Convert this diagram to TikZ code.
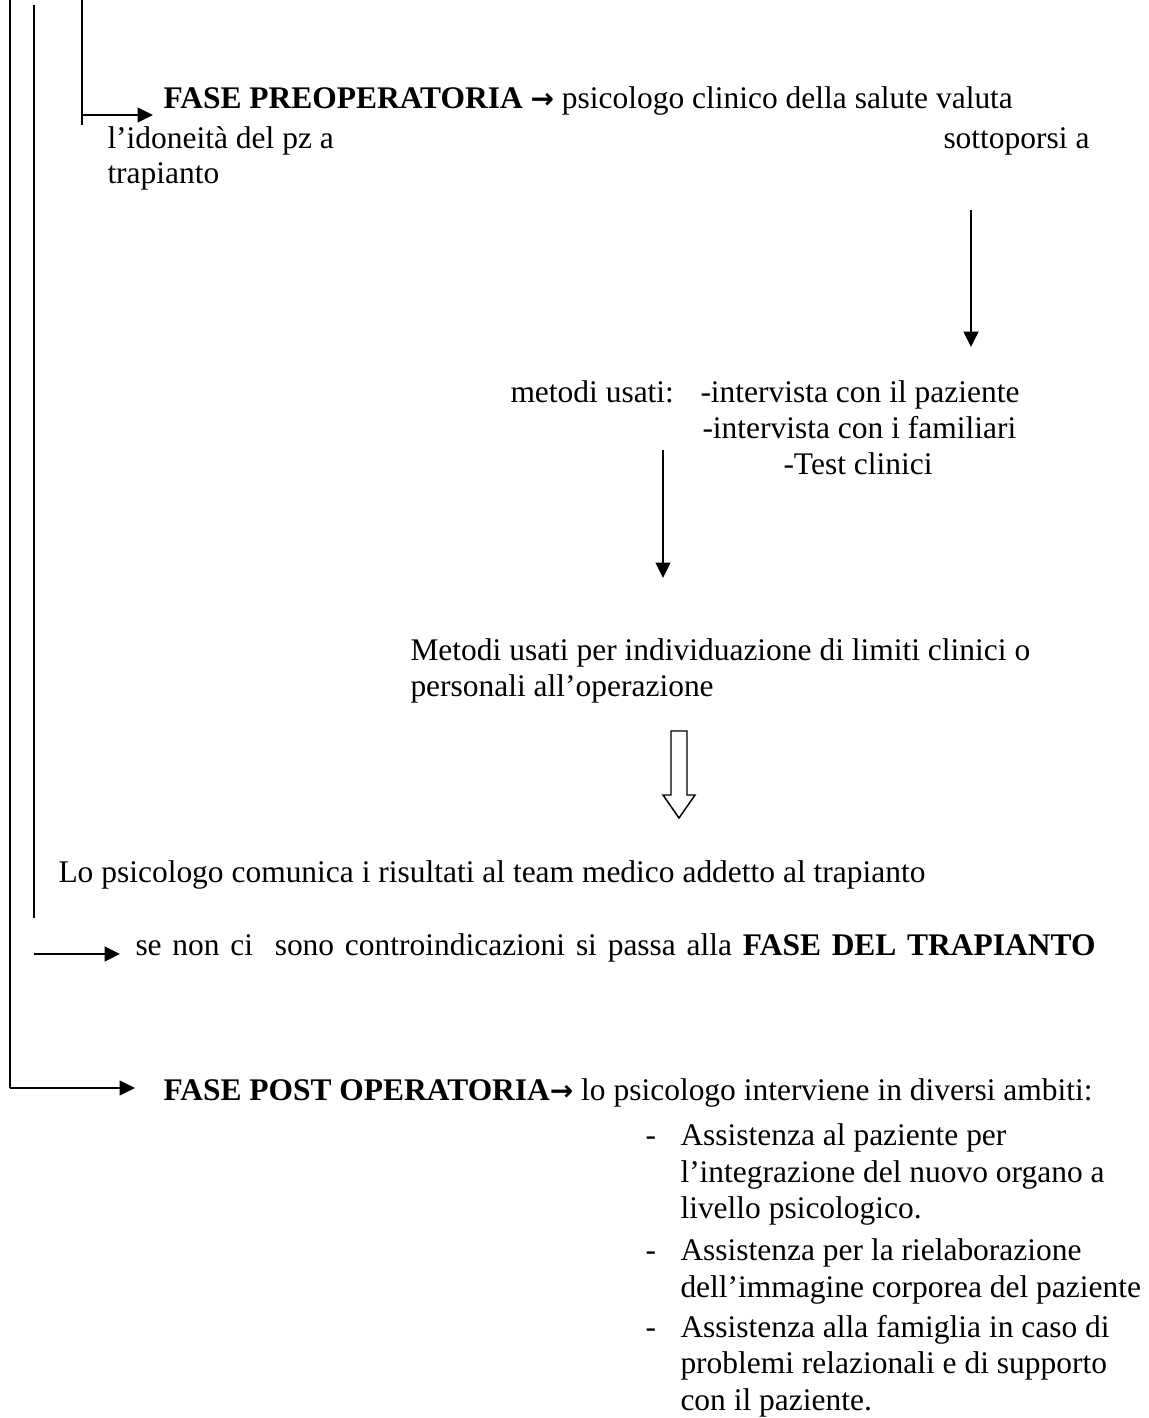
\documentclass[tikz,border=0pt]{standalone}
\usepackage{fontspec}
\setmainfont{Liberation Serif}
\newfontfamily\arrowfont{DejaVu Sans}
\usetikzlibrary{arrows.meta}

\newcommand{\thenarrow}{{\arrowfont\bfseries\fontsize{21}{27.5}\selectfont →}}

\tikzset{every picture/.style={line width=0.75pt}}
\tikzset{
  txt/.style={anchor=base west, inner sep=0pt, font=\fontsize{23.6}{27.5}\selectfont},
  rail/.style={line width=1.3pt},
  flow/.style={line width=1.3pt, -{Triangle[length=11.5pt,width=11pt]}},
  hollow/.style={line width=1.1pt, line join=miter},
}

\begin{document}
\begin{tikzpicture}[x=0.75pt,y=0.75pt,yscale=-1,xscale=1]
\useasboundingbox (0,0) rectangle (1149,1418);

%Rails on the left
\coordinate (railA) at (10,0);
\coordinate (railB) at (34,5);
\coordinate (railC) at (82,0);
\coordinate (preTip) at (153,115);
\coordinate (transTip) at (120,954);
\coordinate (postTip) at (135,1088);

%Straight Lines
\draw [rail] (railC) -- (82,125);
\draw [flow] (railC |- preTip) -- (preTip);
%Straight Lines
\draw [rail] (railB) -- (34,918);
\draw [flow] (railB |- transTip) -- (transTip);
%Straight Lines
\draw [rail] (railA) -- (railA |- postTip);
\draw [flow] (railA |- postTip) -- (postTip);

% Text Node
\node [txt] (pre) at (163,108) {\textbf{FASE PREOPERATORIA} \thenarrow{} psicologo clinico della salute valuta};
\node [txt] (ido) at (107,148) {l’idoneità del pz a};
\node [txt] (sotto) at (943,148) {sottoporsi a};
\node [txt] (trap) at (107,183) {trapianto};

%Straight Lines
\coordinate (downA) at (971,210);
\coordinate (downAtip) at (971,347);
\draw [flow] (downA) -- (downAtip);

% Text Node
\node [txt] (metodi) at (510,402) {metodi usati:};
\node [txt] (int1) at (700,402) {-intervista con il paziente};
\node [txt] (int2) at (702,438) {-intervista con i familiari};
\node [txt] (test) at (783,474) {-Test clinici};

%Straight Lines
\coordinate (downB) at (663,450);
\coordinate (downBtip) at (663,578);
\draw [flow] (downB) -- (downBtip);

% Text Node
\node [txt] (lim1) at (410,660) {Metodi usati per individuazione di limiti clinici o};
\node [txt] (lim2) at (410,696) {personali all’operazione};

%Shape: Down Arrow
\draw [hollow] (671,731) -- (687,731) -- (687,795) -- (695,795) -- (679,818) -- (663,795) -- (671,795) -- cycle;

% Text Node
\node [txt] (comm) at (58,882) {Lo psicologo comunica i risultati al team medico addetto al trapianto};
\node [txt] (trans) at (135,955) {\makebox[720pt][s]{se non ci\ \ sono controindicazioni si passa alla \textbf{FASE DEL TRAPIANTO}}};
\node [txt] (post) at (163,1100) {\textbf{FASE POST OPERATORIA}\thenarrow{} lo psicologo interviene in diversi ambiti:};

% Text Node
\node [txt] (dashA) at (645,1145) {-};
\node [txt] (itemA1) at (680,1145) {Assistenza al paziente per};
\node [txt] (itemA2) at (680,1182) {l’integrazione del nuovo organo a};
\node [txt] (itemA3) at (680,1218) {livello psicologico.};
\node [txt] (dashB) at (645,1260) {-};
\node [txt] (itemB1) at (680,1260) {Assistenza per la rielaborazione};
\node [txt] (itemB2) at (680,1297) {dell’immagine corporea del paziente};
\node [txt] (dashC) at (645,1337) {-};
\node [txt] (itemC1) at (680,1337) {Assistenza alla famiglia in caso di};
\node [txt] (itemC2) at (680,1373) {problemi relazionali e di supporto};
\node [txt] (itemC3) at (680,1410) {con il paziente.};

\end{tikzpicture}
\end{document}
